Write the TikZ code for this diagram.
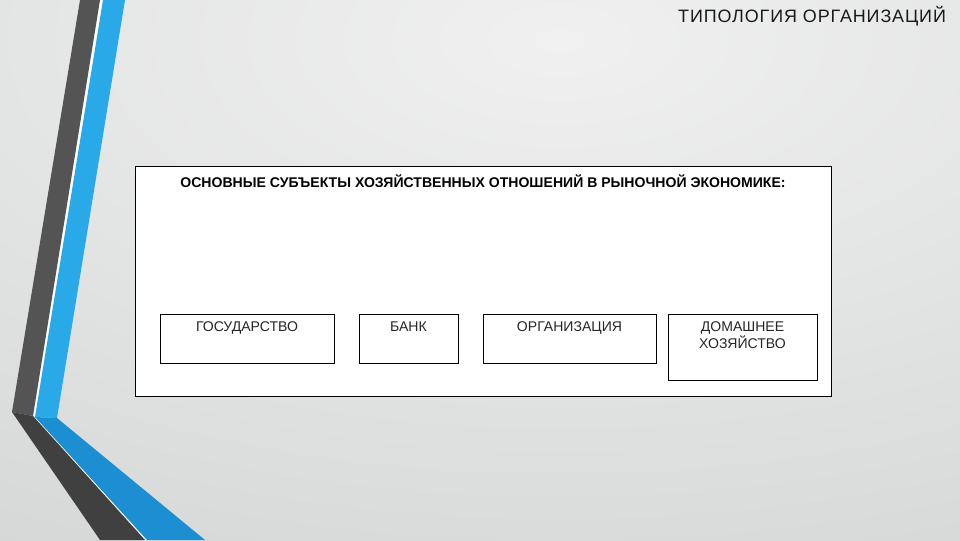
\documentclass[tikz,border=0pt]{standalone}
\usepackage{fontspec}
\setmainfont{Liberation Sans}
\newfontfamily\titlefont[LetterSpace=5]{Liberation Sans}
\usetikzlibrary{fit}
\definecolor{bgtop}{HTML}{F0F0F0}
\definecolor{bgbot}{HTML}{BABEBE}
\definecolor{darkband}{HTML}{545454}
\definecolor{darkbandlow}{HTML}{404040}
\definecolor{blueband}{HTML}{2AA9E9}
\definecolor{bluebandlow}{HTML}{1C8FD2}

\begin{document}
\begin{tikzpicture}[x=0.3mm, y=-0.3mm,
  subj/.style={draw=black, fill=white, inner sep=0pt, line width=0.6pt},
  subjlbl/.style={anchor=north, inner sep=0pt, yshift=-2.4mm, align=center,
    font=\fontsize{12}{14.5}\selectfont, text=black!85}]
\useasboundingbox (0,0) rectangle (960,540);
\begin{scope}
\clip (0,0) rectangle (960,540);
\shade[inner color=bgtop, outer color=bgbot] (560,40) ellipse [x radius=720mm, y radius=360mm];
\end{scope}

\fill[white] (98,0) -- (105,0) -- (37,417) -- (149,540) -- (143,540) -- (31,416) -- cycle;
\fill[darkband] (80,0) -- (100,0) -- (33,416) -- (12,412) -- cycle;
\fill[darkbandlow] (12,412) -- (33,416) -- (145,540) -- (100,540) -- cycle;
\fill[blueband] (103,0) -- (125,0) -- (57,418) -- (35,417) -- cycle;
\fill[bluebandlow] (35,417) -- (57,418) -- (205,540) -- (147,540) -- cycle;

\node (title) at (950,22) [anchor=base east, font=\titlefont\fontsize{15.3}{18}\selectfont, text=black!90] {ТИПОЛОГИЯ ОРГАНИЗАЦИЙ};

\node (frame) [subj, fit={(135,166) (831,396)}] {};
\node (head) at (483,181) [font=\bfseries\fontsize{12}{14}\selectfont] {ОСНОВНЫЕ СУБЪЕКТЫ ХОЗЯЙСТВЕННЫХ ОТНОШЕНИЙ В РЫНОЧНОЙ ЭКОНОМИКЕ:};

\node (gos)  [subj, fit={(160,314) (334,363)}, label={[subjlbl]north:ГОСУДАРСТВО}] {};
\node (bank) [subj, fit={(359,314) (458,363)}, label={[subjlbl]north:БАНК}] {};
\node (org)  [subj, fit={(483,314) (656,363)}, label={[subjlbl]north:ОРГАНИЗАЦИЯ}] {};
\node (home) [subj, fit={(668,314) (817,380)}, label={[subjlbl]north:ДОМАШНЕЕ\\ХОЗЯЙСТВО}] {};
\end{tikzpicture}
\end{document}
